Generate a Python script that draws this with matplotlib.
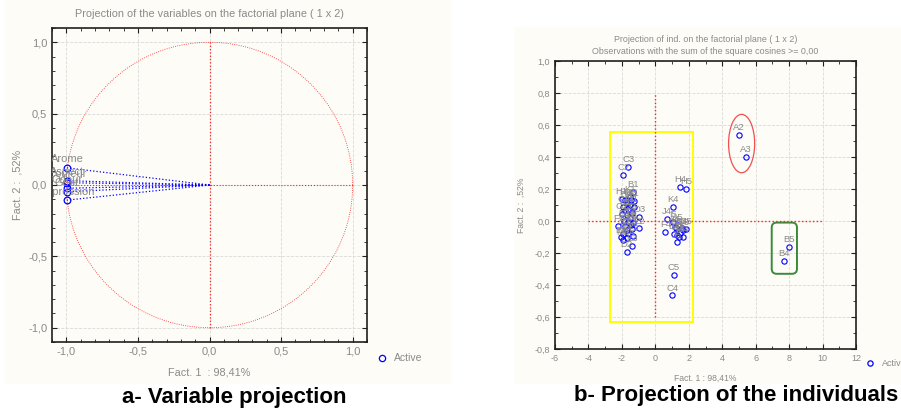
import matplotlib
matplotlib.use("Agg")
import matplotlib.pyplot as plt
import numpy as np
from matplotlib.patches import Ellipse, Rectangle, FancyBboxPatch
from matplotlib.lines import Line2D
from matplotlib.ticker import FuncFormatter, MultipleLocator

plt.rcParams['font.family'] = ['Liberation Sans', 'DejaVu Sans']

# variables (correlation circle)
var_names = ["Arome", "Aspect", "Couleur", "Odeur", "Gout", "Impression"]
var_x = [-0.995, -0.995, -0.995, -0.995, -0.995, -0.995]
var_y = [0.12, 0.03, 0.016, -0.023, -0.047, -0.106]

# individuals
ind_names = ["A2", "A3", "B4", "B5", "C2", "C3",
             "B1", "K1", "H1", "A1", "K2", "H2", "G1", "I1", "C1", "J1",
             "D1", "E1", "D3", "J2", "G2", "I2", "F1", "F2", "H3", "I3",
             "L1", "E2", "G3", "K3", "F3", "L2", "B2", "J3", "L3", "B3",
             "M1", "M2", "E3", "D2",
             "H4", "H5", "K4", "J4", "I5", "F4", "C5", "C4",
             "A4", "A5", "D4", "D5", "G5", "E4", "E5", "F5", "G4", "I4", "J5", "K5"]
ind_x = [4.99, 5.40, 7.72, 8.00, -1.92, -1.62,
         -1.33, -1.51, -2.01, -1.28, -1.45, -1.81, -1.71, -1.51, -1.92, -1.28,
         -1.62, -1.81, -0.98, -1.38, -2.01, -1.71, -2.21, -1.87, -1.62, -1.32,
         -1.51, -0.96, -1.81, -1.47, -1.71, -1.41, -1.62, -1.92, -1.32, -2.07,
         -1.71, -1.95, -1.41, -1.71,
         1.50, 1.85, 1.06, 0.72, 1.04, 0.60, 1.12, 1.02,
         1.18, 1.37, 1.58, 1.67, 1.83, 1.12, 1.28, 1.48, 1.64, 1.43, 1.31, 1.24]
ind_y = [0.539, 0.402, -0.25, -0.16, 0.29, 0.34,
         0.18, 0.152, 0.136, 0.127, 0.131, 0.131, 0.111, 0.10, 0.089, 0.086,
         0.073, 0.069, 0.027, 0.048, 0.044, 0.0375, -0.031, 0.002, -0.004, -0.011,
         0.017, -0.046, -0.031, -0.025, -0.056, -0.05, -0.077, -0.081, -0.094, -0.102,
         -0.108, -0.119, -0.156, -0.192,
         0.215, 0.20, 0.09, 0.012, -0.006, -0.069, -0.335, -0.465,
         -0.036, -0.025, -0.046, -0.056, -0.05, -0.081, -0.0875, -0.077, -0.10, -0.10, -0.133, -0.046]

GRAY = "#8a8a8a"
BLUE = "#0000ff"
RED = "#ff2020"
PANEL = "#fdfcf7"

comma = FuncFormatter(lambda v, p: f"{v:.1f}".replace(".", ","))
intfmt = FuncFormatter(lambda v, p: f"{v:.0f}")


def style_axes(ax, fs):
    ax.set_facecolor(PANEL)
    for s in ax.spines.values():
        s.set_linewidth(1.2)
        s.set_color("#202020")
    ax.tick_params(which="both", direction="in", top=True, right=True,
                   colors="#202020", labelcolor=GRAY, labelsize=fs)
    ax.tick_params(which="major", length=3.5, width=0.8)
    ax.tick_params(which="minor", length=2, width=0.6)
    ax.grid(True, which="major", color="#dadada", linestyle="--", linewidth=0.6)
    ax.set_axisbelow(True)


def legend_mark(fig, x, y, fs, ms):
    fig.add_artist(Line2D([x / 901], [1 - y / 412], marker="o", mfc="none",
                          mec=BLUE, ms=ms, mew=0.9, transform=fig.transFigure))
    fig.text((x + 12) / 901, 1 - y / 412, "Active", color=GRAY, fontsize=fs, va="center")


fig = plt.figure(figsize=(9.01, 4.12), dpi=100, facecolor="white")
fig.patches.append(Rectangle((5 / 901, 1 - 383 / 412), 445 / 901, 383 / 412,
                             transform=fig.transFigure, color=PANEL, zorder=-10))
fig.patches.append(Rectangle((515 / 901, 1 - 383 / 412), 386 / 901, 356 / 412,
                             transform=fig.transFigure, color=PANEL, zorder=-10))

# ---- a- variable projection
ax1 = fig.add_axes([52 / 901, 1 - 342 / 412, 315 / 901, 314 / 412])
style_axes(ax1, 8)
ax1.set_xlim(-1.1, 1.1)
ax1.set_ylim(-1.1, 1.1)
ax1.xaxis.set_major_locator(MultipleLocator(0.5))
ax1.yaxis.set_major_locator(MultipleLocator(0.5))
ax1.xaxis.set_minor_locator(MultipleLocator(0.1))
ax1.yaxis.set_minor_locator(MultipleLocator(0.1))
ax1.xaxis.set_major_formatter(comma)
ax1.yaxis.set_major_formatter(comma)

t = np.linspace(0, 2 * np.pi, 400)
ax1.plot(np.cos(t), np.sin(t), color=RED, lw=0.6, ls=":")
ax1.plot([0, 0], [-1, 1], color=RED, lw=0.9, ls=":")
ax1.plot([-1, 1], [0, 0], color=RED, lw=0.8, ls=":")
for x, y in zip(var_x, var_y):
    ax1.plot([0, x], [0, y], color=BLUE, lw=0.9, ls=":")
ax1.plot(var_x, var_y, "o", mfc="none", mec=BLUE, ms=4.8, mew=0.9)
for n, x, y in zip(var_names, var_x, var_y):
    ax1.annotate(n, (x, y), xytext=(0, 2.5), textcoords="offset points",
                 ha="center", va="bottom", fontsize=8, color=GRAY,
                 annotation_clip=False, clip_on=True)

ax1.set_title("Projection of the variables on the factorial plane ( 1 x 2)",
              fontsize=7.8, color=GRAY, pad=8)
ax1.set_xlabel("Fact. 1  : 98,41%", fontsize=7.8, color=GRAY, labelpad=8)
ax1.set_ylabel("Fact. 2 :  ,52%", fontsize=7.8, color=GRAY, labelpad=4)
legend_mark(fig, 382, 358, 7.5, 4.5)

# ---- b- projection of the individuals
ax2 = fig.add_axes([555 / 901, 1 - 349 / 412, 301 / 901, 288 / 412])
style_axes(ax2, 6.5)
ax2.set_xlim(-6, 12)
ax2.set_ylim(-0.8, 1.0)
ax2.xaxis.set_major_locator(MultipleLocator(2))
ax2.yaxis.set_major_locator(MultipleLocator(0.2))
ax2.xaxis.set_minor_locator(MultipleLocator(1))
ax2.yaxis.set_minor_locator(MultipleLocator(0.1))
ax2.xaxis.set_major_formatter(intfmt)
ax2.yaxis.set_major_formatter(comma)

ax2.plot([0, 0], [-0.6, 0.8], color=RED, lw=1.0, ls=":")
ax2.plot([-4, 10], [0, 0], color=RED, lw=1.0, ls=":")
ax2.add_patch(Rectangle((-2.71, -0.633), 4.95, 1.191, fill=False,
                        edgecolor="#ffff00", lw=1.4))
ax2.add_patch(Ellipse((5.16, 0.484), 1.56, 0.365, fill=False,
                      edgecolor="#f05050", lw=0.9))
ax2.add_patch(FancyBboxPatch((6.96, -0.33), 1.51, 0.32,
                             boxstyle="round,pad=0,rounding_size=0.3",
                             mutation_aspect=0.1045, fill=False,
                             edgecolor="#3a8a3a", lw=1.4))
ax2.plot(ind_x, ind_y, "o", mfc="none", mec=BLUE, ms=3.8, mew=0.8)
for n, x, y in zip(ind_names, ind_x, ind_y):
    ax2.annotate(n, (x, y), xytext=(0, 2), textcoords="offset points",
                 ha="center", va="bottom", fontsize=6.8, color=GRAY)

ax2.set_title("Projection of ind. on the factorial plane ( 1 x 2)\n"
              "Observations with the sum of the square cosines >= 0,00",
              fontsize=6.4, color=GRAY, pad=5, linespacing=1.5)
ax2.set_xlabel("Fact. 1 : 98,41%", fontsize=6.2, color=GRAY, labelpad=8)
ax2.set_ylabel("Fact. 2 :  ,52%", fontsize=6.2, color=GRAY, labelpad=6)
legend_mark(fig, 870, 363, 6.5, 3.8)

# captions
fig.text(234 / 901, 1 - 398 / 412, "a- Variable projection", fontsize=16,
         fontweight="bold", ha="center", va="center")
fig.text(736 / 901, 1 - 396 / 412, "b- Projection of the individuals", fontsize=16,
         fontweight="bold", ha="center", va="center")

fig.savefig("out.png", dpi=100, facecolor="white")
